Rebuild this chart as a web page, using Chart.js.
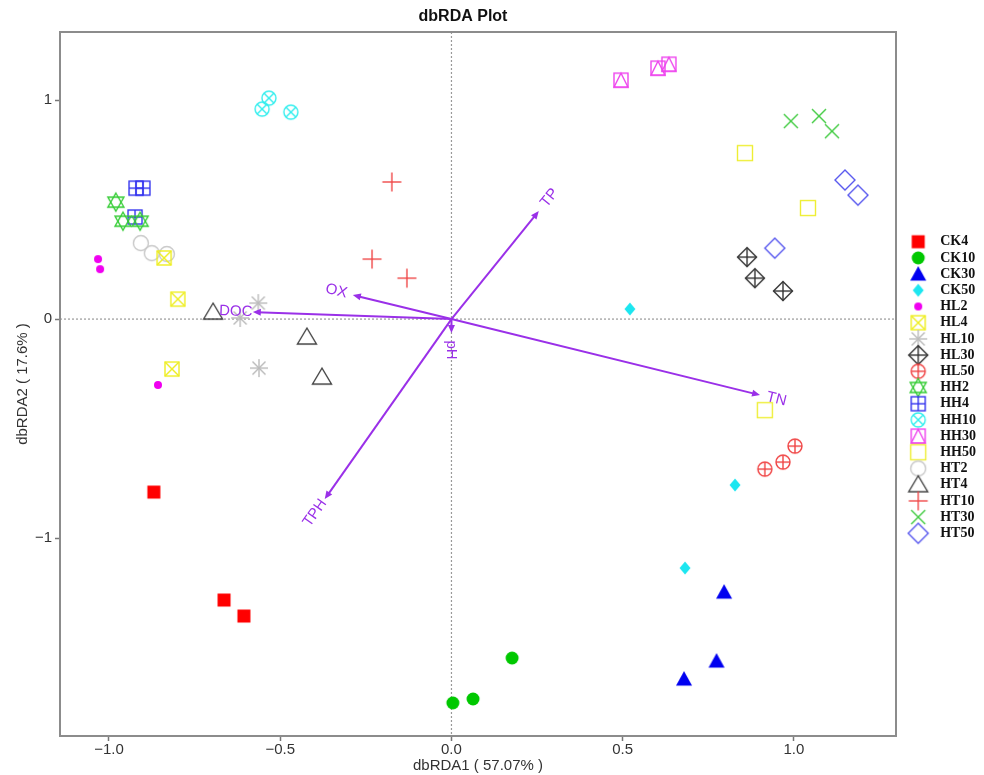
<!DOCTYPE html>
<html>
<head>
<meta charset="utf-8">
<script src="https://cdn.jsdelivr.net/npm/chart.js@4.4.1/dist/chart.umd.min.js"></script>
<style>
  body { margin: 0; background: #fff; }
</style>
</head>
<body>
<canvas id="graficoDbRDA" width="984" height="775"></canvas>
<script>
// ---- dados (3 amostras por grupo)
const grupos = ['CK4', 'CK10', 'CK30', 'CK50', 'HL2', 'HL4', 'HL10', 'HL30', 'HL50',
    'HH2', 'HH4', 'HH10', 'HH30', 'HH50', 'HT2', 'HT4', 'HT10', 'HT30', 'HT50'];

const dbRDA1 = [
    [-0.869, -0.664, -0.606],   // CK4
    [0.004, 0.063, 0.177],      // CK10
    [0.796, 0.774, 0.679],      // CK30
    [0.521, 0.828, 0.682],      // CK50
    [-1.032, -1.026, -0.857],   // HL2
    [-0.839, -0.799, -0.816],   // HL4
    [-0.564, -0.562, -0.617],   // HL10
    [0.863, 0.886, 0.968],      // HL30
    [0.915, 0.968, 1.003],      // HL50
    [-0.980, -0.959, -0.909],   // HH2
    [-0.921, -0.901, -0.924],   // HH4
    [-0.533, -0.553, -0.469],   // HH10
    [0.495, 0.603, 0.635],      // HH30
    [0.857, 1.041, 0.915],      // HH50
    [-0.907, -0.875, -0.831],   // HT2
    [-0.696, -0.422, -0.378],   // HT4
    [-0.174, -0.232, -0.130],   // HT10
    [0.991, 1.073, 1.111],      // HT30
    [1.149, 1.187, 0.944]       // HT50
];

const dbRDA2 = [
    [-0.790, -1.283, -1.356],
    [-1.753, -1.735, -1.548],
    [-1.247, -1.562, -1.644],
    [0.046, -0.758, -1.137],
    [0.274, 0.228, -0.301],
    [0.279, 0.091, -0.228],
    [0.073, -0.224, 0.005],
    [0.283, 0.187, 0.128],
    [-0.685, -0.653, -0.580],
    [0.534, 0.447, 0.447],
    [0.598, 0.598, 0.466],
    [1.009, 0.959, 0.945],
    [1.091, 1.146, 1.164],
    [0.758, 0.507, -0.416],
    [0.347, 0.301, 0.297],
    [0.032, -0.082, -0.265],
    [0.626, 0.274, 0.187],
    [0.904, 0.927, 0.858],
    [0.635, 0.566, 0.324]
];

// fatores ambientais (setas)
const fatores = ['TP', 'TN', 'DOC', 'OX', 'pH', 'TPH'];
const fatorRDA1 = [0.255, 0.901, -0.580, -0.288, 0.0, -0.370];
const fatorRDA2 = [0.493, -0.347, 0.032, 0.110, -0.064, -0.822];

// ---- estilos dos símbolos
const cores = ['#ff0000', '#00c800', '#0000f0', '#1ce6f0', '#f000f0', '#eeee22', '#bbbbbb',
    '#333333', '#f04444', '#33cc33', '#3333ee', '#33eeee', '#ee44ee', '#eeee33', '#c8c8c8',
    '#444444', '#f04848', '#44cc44', '#5555ee'];
const formas = ['sqFill', 'cirFill', 'triFill', 'diaFill', 'dot', 'sqX', 'aster', 'diaPlus',
    'cirPlus', 'david', 'sqPlus', 'cirX', 'sqTri', 'sq', 'cir', 'tri', 'plus', 'x', 'dia'];
const corSeta = '#9a30e8';

function linha(g, x1, y1, x2, y2) {
    g.beginPath(); g.moveTo(x1, y1); g.lineTo(x2, y2); g.stroke();
}
function poligono(g, pts, preencher) {
    g.beginPath();
    g.moveTo(pts[0][0], pts[0][1]);
    for (let i = 1; i < pts.length; i++) g.lineTo(pts[i][0], pts[i][1]);
    g.closePath();
    if (preencher) g.fill(); else g.stroke();
}

// desenha o símbolo num canvas pequeno, usado como pointStyle
function criarSimbolo(forma, cor) {
    const S = 24;
    const c = document.createElement('canvas');
    c.width = S; c.height = S;
    const g = c.getContext('2d');
    g.translate(S / 2, S / 2);
    g.strokeStyle = cor; g.fillStyle = cor; g.lineWidth = 1.4;
    switch (forma) {
        case 'sqFill': g.fillRect(-6.5, -6.5, 13, 13); break;
        case 'cirFill': g.beginPath(); g.arc(0, 0, 6.5, 0, Math.PI * 2); g.fill(); break;
        case 'triFill': poligono(g, [[0, -8], [8, 6.5], [-8, 6.5]], true); break;
        case 'diaFill': poligono(g, [[0, -6.5], [5.5, 0], [0, 6.5], [-5.5, 0]], true); break;
        case 'dot': g.beginPath(); g.arc(0, 0, 4, 0, Math.PI * 2); g.fill(); break;
        case 'sqX':
            g.strokeRect(-7, -7, 14, 14);
            linha(g, -7, -7, 7, 7); linha(g, 7, -7, -7, 7); break;
        case 'aster':
            linha(g, -9, 0, 9, 0); linha(g, 0, -9, 0, 9);
            linha(g, -6.5, -6.5, 6.5, 6.5); linha(g, 6.5, -6.5, -6.5, 6.5); break;
        case 'diaPlus':
            poligono(g, [[0, -9.5], [9.5, 0], [0, 9.5], [-9.5, 0]], false);
            linha(g, -9.5, 0, 9.5, 0); linha(g, 0, -9.5, 0, 9.5); break;
        case 'cirPlus':
            g.beginPath(); g.arc(0, 0, 7, 0, Math.PI * 2); g.stroke();
            linha(g, -7, 0, 7, 0); linha(g, 0, -7, 0, 7); break;
        case 'david':
            poligono(g, [[0, -9], [8, 5], [-8, 5]], false);
            poligono(g, [[0, 9], [8, -5], [-8, -5]], false); break;
        case 'sqPlus':
            g.strokeRect(-7, -7, 14, 14);
            linha(g, -7, 0, 7, 0); linha(g, 0, -7, 0, 7); break;
        case 'cirX':
            g.beginPath(); g.arc(0, 0, 7, 0, Math.PI * 2); g.stroke();
            linha(g, -5, -5, 5, 5); linha(g, 5, -5, -5, 5); break;
        case 'sqTri':
            g.strokeRect(-7, -7, 14, 14);
            poligono(g, [[0, -7], [7, 7], [-7, 7]], false); break;
        case 'sq': g.strokeRect(-7.5, -7.5, 15, 15); break;
        case 'cir': g.beginPath(); g.arc(0, 0, 7.5, 0, Math.PI * 2); g.stroke(); break;
        case 'tri': poligono(g, [[0, -9], [9.5, 7], [-9.5, 7]], false); break;
        case 'plus': linha(g, -9.5, 0, 9.5, 0); linha(g, 0, -9.5, 0, 9.5); break;
        case 'x': linha(g, -7, -7, 7, 7); linha(g, 7, -7, -7, 7); break;
        case 'dia': poligono(g, [[0, -10], [10, 0], [0, 10], [-10, 0]], false); break;
    }
    return c;
}

const datasets = grupos.map((nome, i) => ({
    label: nome,
    data: dbRDA1[i].map((x, k) => ({ x: x, y: dbRDA2[i][k] })),
    pointStyle: criarSimbolo(formas[i], cores[i]),
    borderColor: cores[i],
    backgroundColor: cores[i],
    pointRadius: 8
}));

// moldura, linhas pontilhadas no zero e setas dos fatores
const pluginExtras = {
    id: 'dbrdaExtras',
    beforeUpdate(chart) {
        const lg = chart.legend;
        if (lg && !lg._larguraFixa) {
            const fitOriginal = lg.fit.bind(lg);
            lg.fit = function () { fitOriginal(); this.width = 88; };
            lg._larguraFixa = true;
        }
    },
    afterLayout(chart) {
        if (chart.legend) { chart.legend.left += 5; }
        if (chart.titleBlock) { chart.titleBlock.left -= 30; }
    },
    beforeDatasetsDraw(chart) {
        const { ctx, chartArea: a, scales } = chart;
        const x0 = scales.x.getPixelForValue(0);
        const y0 = scales.y.getPixelForValue(0);
        ctx.save();
        ctx.strokeStyle = '#999';
        ctx.lineWidth = 1.2;
        ctx.setLineDash([2, 2]);
        linha(ctx, x0, a.top, x0, a.bottom);
        linha(ctx, a.left, y0, a.right, y0);
        ctx.setLineDash([]);
        ctx.strokeStyle = '#8c8c8c';
        ctx.lineWidth = 2;
        ctx.strokeRect(a.left, a.top, a.right - a.left, a.bottom - a.top);
        ctx.restore();
    },
    afterDatasetsDraw(chart) {
        const { ctx, scales } = chart;
        const x0 = scales.x.getPixelForValue(0);
        const y0 = scales.y.getPixelForValue(0);
        ctx.save();
        ctx.strokeStyle = corSeta;
        ctx.fillStyle = corSeta;
        ctx.lineWidth = 2;
        ctx.font = '15px "Liberation Sans", Arial, sans-serif';
        ctx.textAlign = 'center';
        ctx.textBaseline = 'middle';
        fatores.forEach((nome, i) => {
            const px = scales.x.getPixelForValue(fatorRDA1[i]);
            const py = scales.y.getPixelForValue(fatorRDA2[i]);
            const dx = px - x0, dy = py - y0;
            const len = Math.hypot(dx, dy);
            const ux = dx / len, uy = dy / len;
            linha(ctx, x0, y0, px - ux * 4, py - uy * 4);
            // ponta da seta
            const h = 8, w = 3.5;
            poligono(ctx, [[px, py],
                [px - ux * h - uy * w, py - uy * h + ux * w],
                [px - ux * h + uy * w, py - uy * h - ux * w]], true);
            // rótulo girado na direção da seta
            let ang = Math.atan2(dy, dx);
            if (ang > Math.PI / 2 + 0.01) ang -= Math.PI;
            if (ang < -Math.PI / 2 - 0.01) ang += Math.PI;
            ctx.save();
            ctx.translate(px + ux * 17, py + uy * 17);
            ctx.rotate(ang);
            ctx.fillText(nome, 0, 0);
            ctx.restore();
        });
        ctx.restore();
    }
};

const ctx = document.getElementById('graficoDbRDA').getContext('2d');

let graficoDbRDA = new Chart(ctx, {
    type: 'scatter',
    data: { datasets: datasets },
    options: {
        responsive: false,
        animation: false,
        layout: { padding: 0 },
        plugins: {
            title: {
                display: true,
                text: 'dbRDA Plot',
                fullSize: false,
                color: '#111',
                font: { family: '"Liberation Sans", Arial, sans-serif', size: 16, weight: 'bold' },
                padding: { top: 6.5, bottom: 6.3 }
            },
            legend: {
                position: 'right',
                align: 'center',
                labels: {
                    usePointStyle: true,
                    pointStyleWidth: 30,
                    padding: 2.2,
                    color: '#111',
                    font: { family: '"Liberation Serif", "Times New Roman", serif', size: 14, weight: 'bold' }
                }
            },
            tooltip: { enabled: false }
        },
        scales: {
            x: {
                type: 'linear',
                position: 'bottom',
                min: -1.143,
                max: 1.298,
                afterFit: (s) => { s.height = 39; },
                border: { display: false },
                grid: { drawOnChartArea: false, drawTicks: true, tickLength: 5, tickColor: '#777', tickWidth: 1.5 },
                ticks: {
                    stepSize: 0.5,
                    includeBounds: false,
                    padding: 0,
                    color: '#333',
                    font: { family: '"Liberation Sans", Arial, sans-serif', size: 15 },
                    callback: (v) => v.toFixed(1).replace('-', '\u2212')
                },
                title: {
                    display: true,
                    text: 'dbRDA1 ( 57.07% )',
                    color: '#333',
                    font: { family: '"Liberation Sans", Arial, sans-serif', size: 15 },
                    padding: { top: 0, bottom: 0 }
                }
            },
            y: {
                type: 'linear',
                min: -1.904,
                max: 1.311,
                afterFit: (s) => { s.width = 60; },
                border: { display: false },
                grid: { drawOnChartArea: false, drawTicks: true, tickLength: 5, tickColor: '#777', tickWidth: 1.5 },
                ticks: {
                    stepSize: 1,
                    includeBounds: false,
                    padding: 3,
                    color: '#333',
                    font: { family: '"Liberation Sans", Arial, sans-serif', size: 15 },
                    callback: (v) => String(v).replace('-', '\u2212')
                },
                title: {
                    display: true,
                    text: 'dbRDA2 ( 17.6% )',
                    color: '#333',
                    font: { family: '"Liberation Sans", Arial, sans-serif', size: 15 },
                    padding: { top: 14, bottom: 0 }
                }
            }
        }
    },
    plugins: [pluginExtras]
});
</script>
</body>
</html>
